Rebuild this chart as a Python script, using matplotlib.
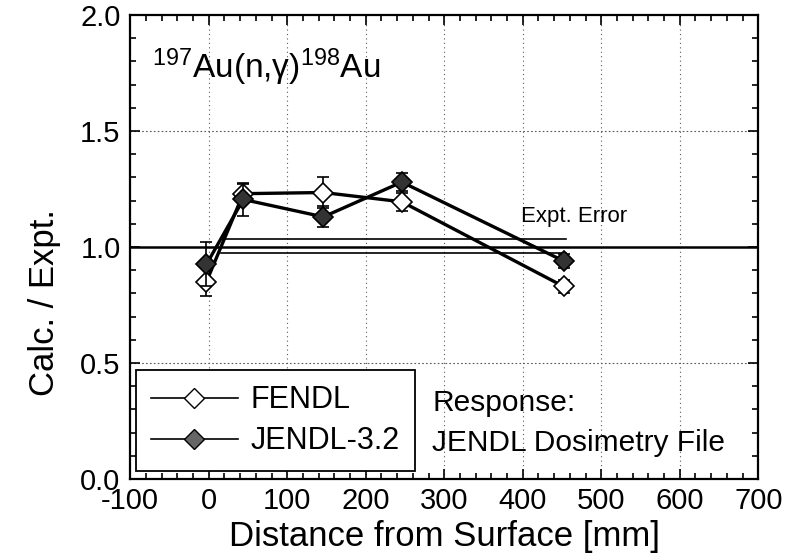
import matplotlib
matplotlib.use("Agg")
import matplotlib.pyplot as plt
from matplotlib.ticker import MultipleLocator, FormatStrFormatter
from matplotlib.lines import Line2D

plt.rcParams['font.family'] = ['Liberation Sans', 'DejaVu Sans']
plt.rcParams['mathtext.fontset'] = 'custom'
plt.rcParams['mathtext.rm'] = 'Liberation Sans'
plt.rcParams['mathtext.it'] = 'Liberation Sans'
plt.rcParams['mathtext.default'] = 'regular'
plt.rcParams['axes.unicode_minus'] = False

# ---- data ----
distance = [-3, 44, 146, 246, 452]
fendl = [0.85, 1.23, 1.235, 1.195, 0.83]
fendl_err = [0.06, 0.04, 0.065, 0.04, 0.03]
jendl = [0.925, 1.205, 1.13, 1.28, 0.94]
jendl_err = [0.095, 0.07, 0.045, 0.04, 0.03]
expt_err_band = [0.975, 1.033]
band_range = [15, 455]
x_ticks = [-100, 0, 100, 200, 300, 400, 500, 600, 700]
y_ticks = [0.0, 0.5, 1.0, 1.5, 2.0]

fig = plt.figure(figsize=(7.99, 5.57), dpi=100)
ax = fig.add_axes([0.163, 0.140, 0.786, 0.833])

ax.set_xlim(-100, 700)
ax.set_ylim(0, 2.0)

# grid
for xv in x_ticks[1:-1]:
    ax.axvline(xv, color='0.35', lw=0.8, ls=(0, (1, 3)), zorder=0)
for yv in [0.5, 1.5]:
    ax.axhline(yv, color='0.35', lw=0.8, ls=(0, (1.5, 2)), zorder=0)
ax.axhline(1.0, color='black', lw=1.8, zorder=1)

# expt error band
for yv in expt_err_band:
    ax.plot(band_range, [yv, yv], color='black', lw=1.2, zorder=1)
ax.text(398, 1.13, 'Expt. Error', fontsize=16, va='center', ha='left')

# data
ax.errorbar(distance, fendl, yerr=fendl_err, color='black', lw=2.4,
            marker='D', ms=10, mfc='white', mec='black', mew=1.2,
            ecolor='black', elinewidth=1.2, capsize=4, capthick=1.2, zorder=3)
ax.errorbar(distance, jendl, yerr=jendl_err, color='black', lw=2.4,
            marker='D', ms=10, mfc='#333333', mec='black', mew=1.2,
            ecolor='black', elinewidth=1.2, capsize=4, capthick=1.2, zorder=4)

ax.text(-72, 1.73, '$^{197}$Au(n,γ)$^{198}$Au', fontsize=24, ha='left', va='baseline')

ax.text(285, 0.326, 'Response:', fontsize=21.5, va='center', ha='left')
ax.text(285, 0.156, 'JENDL Dosimetry File', fontsize=21.5, va='center', ha='left')

handles = [
    Line2D([], [], color='black', lw=1.2, marker='D', ms=10, mfc='white', mec='black', mew=1.0),
    Line2D([], [], color='black', lw=1.2, marker='D', ms=10, mfc='#666666', mec='black', mew=1.0),
]
leg = ax.legend(handles, ['FENDL', 'JENDL-3.2'], loc='lower left',
                bbox_to_anchor=(0.009, 0.0165), borderaxespad=0, fontsize=22,
                handlelength=2.85, handletextpad=0.42, labelspacing=0.36,
                borderpad=0.49, fancybox=False, framealpha=1, edgecolor='black')
leg.get_frame().set_linewidth(1.3)
leg.set_zorder(6)

ax.set_xticks(x_ticks)
ax.set_yticks(y_ticks)
ax.yaxis.set_major_formatter(FormatStrFormatter('%.1f'))
ax.xaxis.set_minor_locator(MultipleLocator(20))
ax.yaxis.set_minor_locator(MultipleLocator(0.1))
ax.tick_params(which='both', direction='in', top=True, right=True, width=1.2)
ax.tick_params(which='major', length=7, labelsize=21)
ax.tick_params(which='minor', length=4.5)
ax.tick_params(axis='x', which='major', pad=6)
ax.tick_params(axis='y', which='major', pad=7)
for s in ax.spines.values():
    s.set_linewidth(1.6)

ax.set_xlabel('Distance from Surface [mm]', fontsize=25, labelpad=3)
ax.set_ylabel('Calc. / Expt.', fontsize=25)
ax.yaxis.set_label_coords(-0.11, 0.38)

fig.savefig('out.png', dpi=100)
